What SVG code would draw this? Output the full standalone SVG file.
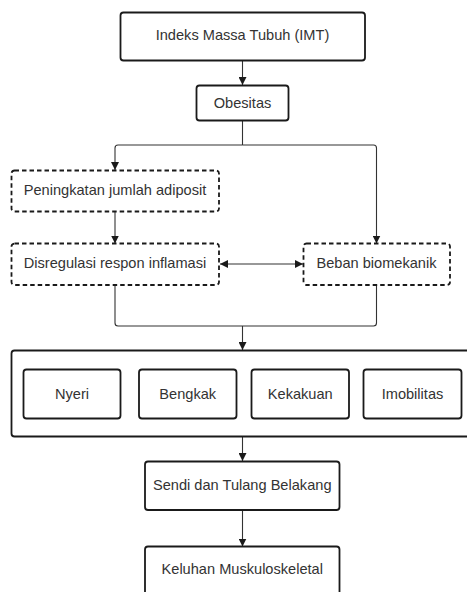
<svg xmlns="http://www.w3.org/2000/svg" width="467" height="592" viewBox="0 0 467 592">
  <style>
    .box { fill: #ffffff; stroke: #1a1a1a; stroke-width: 1.8; }
    .dash { fill: #ffffff; stroke: #1a1a1a; stroke-width: 1.8; stroke-dasharray: 4.5 3; }
    .lbl { font-family: "Liberation Sans", Arial, sans-serif; font-size: 14.6px; fill: #333333; text-anchor: middle; dominant-baseline: central; }
    .wire { fill: none; stroke: #333333; stroke-width: 1.1; }
  </style>
  <defs>
    <marker id="arrow" viewBox="0 0 10 10" refX="10" refY="5" markerWidth="8" markerHeight="8" markerUnits="userSpaceOnUse" orient="auto-start-reverse">
      <path d="M0,0 L10,5 L0,10 z" fill="#1a1a1a"/>
    </marker>
  </defs>
  <rect width="467" height="592" fill="#ffffff"/>

  <!-- connectors -->
  <g id="connectors">
    <path class="wire" d="M242.5,61 V85" marker-end="url(#arrow)"/>
    <path class="wire" d="M242.5,121 V145"/>
    <path class="wire" d="M242.5,145 H118 Q115,145 115,148 V170" marker-end="url(#arrow)"/>
    <path class="wire" d="M242.5,145 H373.5 Q376.5,145 376.5,148 V243.5" marker-end="url(#arrow)"/>
    <path class="wire" d="M115,212 V243.5" marker-end="url(#arrow)"/>
    <path class="wire" d="M220,264 H303" marker-start="url(#arrow)" marker-end="url(#arrow)"/>
    <path class="wire" d="M115,285 V323 Q115,326 118,326 H373.5 Q376.5,326 376.5,323 V285"/>
    <path class="wire" d="M242.5,326 V350" marker-end="url(#arrow)"/>
    <path class="wire" d="M242.5,437 V461" marker-end="url(#arrow)"/>
    <path class="wire" d="M242.5,510 V546.5" marker-end="url(#arrow)"/>
  </g>

  <g id="imt">
    <rect class="box" x="120.5" y="12.5" width="244.5" height="48" rx="3"/>
    <text class="lbl" x="242.5" y="35">Indeks Massa Tubuh (IMT)</text>
  </g>
  <g id="obesitas">
    <rect class="box" x="196.5" y="85.5" width="92" height="35" rx="3"/>
    <text class="lbl" x="242.5" y="103">Obesitas</text>
  </g>
  <g id="adiposit">
    <rect class="dash" x="11.5" y="170.5" width="207.5" height="41" rx="3"/>
    <text class="lbl" x="115" y="190">Peningkatan jumlah adiposit</text>
  </g>
  <g id="inflamasi">
    <rect class="dash" x="11.5" y="243.5" width="207.5" height="41.5" rx="3"/>
    <text class="lbl" x="115" y="263">Disregulasi respon inflamasi</text>
  </g>
  <g id="biomekanik">
    <rect class="dash" x="303.5" y="243.5" width="146.5" height="41.5" rx="3"/>
    <text class="lbl" x="376.5" y="263">Beban biomekanik</text>
  </g>
  <g id="gejala">
    <rect class="box" x="11.5" y="350.5" width="470" height="86" rx="3"/>
  </g>
  <g id="nyeri">
    <rect class="box" x="23.5" y="369.5" width="97" height="49" rx="3"/>
    <text class="lbl" x="72" y="394">Nyeri</text>
  </g>
  <g id="bengkak">
    <rect class="box" x="139" y="369.5" width="97.5" height="49" rx="3"/>
    <text class="lbl" x="187.75" y="394">Bengkak</text>
  </g>
  <g id="kekakuan">
    <rect class="box" x="251.5" y="369.5" width="97.5" height="49" rx="3"/>
    <text class="lbl" x="300.25" y="394">Kekakuan</text>
  </g>
  <g id="imobilitas">
    <rect class="box" x="363.5" y="369.5" width="98" height="49" rx="3"/>
    <text class="lbl" x="412.5" y="394">Imobilitas</text>
  </g>
  <g id="sendi">
    <rect class="box" x="145" y="461.5" width="194.5" height="48.5" rx="3"/>
    <text class="lbl" x="242.25" y="485">Sendi dan Tulang Belakang</text>
  </g>
  <g id="keluhan">
    <rect class="box" x="145" y="546.5" width="194.5" height="60" rx="3"/>
    <text class="lbl" x="242.25" y="569">Keluhan Muskuloskeletal</text>
  </g>
</svg>
